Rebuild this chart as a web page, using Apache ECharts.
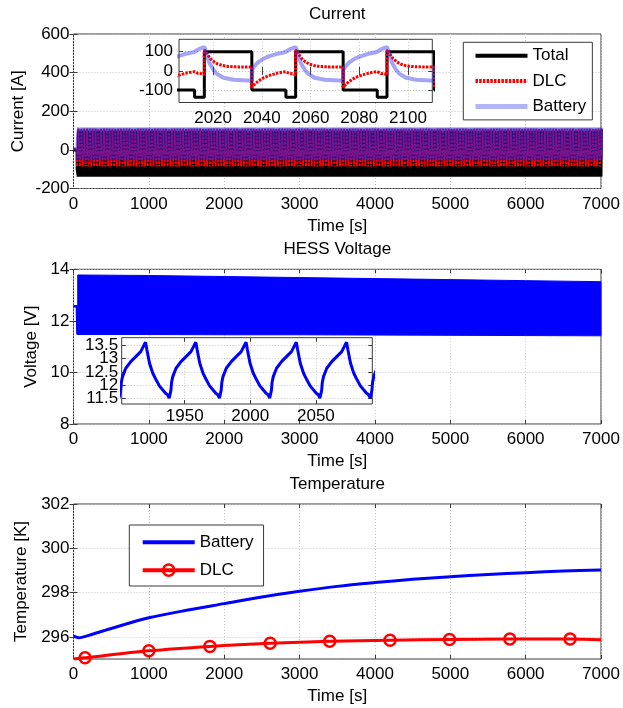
<!DOCTYPE html>
<html>
<head>
<meta charset="utf-8">
<title>HESS simulation</title>
<script src="https://cdn.jsdelivr.net/npm/echarts@6.0.0/dist/echarts.min.js"></script>
<style>
  html, body { margin: 0; padding: 0; background: #ffffff; }
  #chart { width: 623px; height: 708px; }
</style>
</head>
<body>
<div id="chart"></div>
<script>
// ---------- Current: one period of the repeating load cycle ----------
// [seconds after the step down, current in A]
const cyclePeriod = 37.5;
const firstCycleStart = 48.4;
const simulationEnd = 7000;

const totalCycle = [[0,-100],[14,-100],[14,-138],[18,-138],[18,100],[37.5,100]];
const dlcCycle = [[0,-86],[1,-72],[2,-60],[3.5,-46],[5,-35],[7,-25],[9,-17],[11,-10],[13,-6],[14,-4],
  [14.6,-9],[15.4,-13],[16.2,-7],[17,-15],[18,-22],[18,110],[18.7,99],[19.5,82],[20.5,64],[22,47],
  [23.5,36],[25.5,28],[28,23],[32,21],[37.5,20]];
const batteryCycle = [[0,-52],[0,2],[1,24],[2.5,44],[4.5,62],[7,76],[10,88],[13,96],[14,100],[15,108],
  [16,115],[17,120],[18,124],[18.4,112],[19,84],[20,44],[21.7,6],[23,-14],[25.8,-36],[30,-46],[37.5,-52]];

// idle stretch before cycling begins
const totalIdle = [[0,0],[48.4,0]];
const dlcIdle = [[0,6],[48.4,6]];
const batteryIdle = [[0,4],[48.4,4]];

// ---------- HESS voltage ----------
const voltageIdle = [[0,12.57],[45,12.57],[52,11.47]];
const voltageUpper = [[56,13.78],[1000,13.76],[2000,13.72],[3000,13.68],[4000,13.64],[5000,13.6],[6000,13.56],[7000,13.52]];
const voltageLower = [[56,11.47],[1000,11.47],[2000,11.46],[3000,11.46],[4000,11.45],[5000,11.44],[6000,11.43],[7000,11.42]];
// one period of the terminal voltage, [seconds after the peak, V]
const voltagePeriod = 38.3;
const voltagePeakTime = 1920.2;
const voltageCycle = [[0,13.63],[1,13.34],[3,12.83],[5.5,12.45],[8,12.2],[10.5,11.97],[13,11.82],[15.2,11.69],
  [16.8,11.63],[18,11.5],[18.8,11.44],[19.3,11.8],[19.8,12.1],[20.7,12.32],[23.2,12.64],[27,12.89],
  [30.8,13.08],[34.6,13.27],[37.2,13.53],[38.3,13.63]];

// ---------- Temperatures ----------
const batteryTemp = [[0,296.03],[70,295.96],[250,296.12],[500,296.38],[1000,296.86],[1500,297.2],[2000,297.5],
  [2500,297.8],[3000,298.06],[3500,298.28],[4000,298.45],[4500,298.6],[5000,298.72],[5500,298.82],
  [6000,298.9],[6500,298.97],[7000,299.02]];
const dlcTemp = [[0,295.0],[153,295.06],[1000,295.37],[1810,295.57],[2610,295.71],[3400,295.8],
  [4200,295.85],[4990,295.88],[5790,295.9],[6590,295.9],[7000,295.87]];

// ---------- Tick values ----------
const currentInsetTicks = [-100, 0, 100];
const currentInsetTimeTicks = [2020, 2040, 2060, 2080, 2100];
const voltageInsetTicks = [11.5, 12, 12.5, 13, 13.5];
const voltageInsetLabelsA = [11.5, 12.5, 13.5];
const voltageInsetLabelsB = [12, 13];
const voltageInsetTimeTicks = [1950, 2000, 2050];
const temperatureTicks = [296, 298, 300, 302];

// ---------- helpers ----------
function repeatCycle(lead, cycle, start, period, end) {
  const out = lead.slice();
  for (let t0 = start; t0 < end; t0 += period) {
    for (const [p, v] of cycle) out.push([Math.round((t0 + p) * 100) / 100, v]);
  }
  return out;
}
function windowOf(data, from, to) {
  return data.filter(d => d[0] >= from && d[0] <= to);
}

const totalCurrent = repeatCycle(totalIdle, totalCycle, firstCycleStart, cyclePeriod, simulationEnd);
const dlcCurrent = repeatCycle(dlcIdle, dlcCycle, firstCycleStart, cyclePeriod, simulationEnd);
const batteryCurrent = repeatCycle(batteryIdle, batteryCycle, firstCycleStart, cyclePeriod, simulationEnd);
const voltageDetail = repeatCycle([], voltageCycle, voltagePeakTime - voltagePeriod, voltagePeriod, 2100);
const voltageBand = voltageUpper.concat(voltageLower.slice().reverse());

const FONT = '"Liberation Sans", Arial, sans-serif';
const FS = 17;
const frameColor = '#3a3a3a';
const gridLineStyle = { show: true, lineStyle: { color: '#c4c4c4', type: [1, 2], width: 1 } };
const tick = { show: true, inside: true, length: 4, lineStyle: { color: frameColor, width: 1 } };

function labelStyle(margin, values) {
  const s = { color: '#000', fontSize: FS, fontFamily: FONT, margin,
    showMinLabel: true, showMaxLabel: true, hideOverlap: false, formatter: v => String(v) };
  if (values) s.customValues = values;
  return s;
}

function axisPair(kind, gridIndex, min, max, spec, labelMargin, z) {
  const custom = spec.values ? { customValues: spec.values } : {};
  const main = {
    type: 'value', gridIndex, min, max, z,
    position: kind === 'x' ? 'bottom' : 'left',
    axisLine: { show: false },
    axisTick: Object.assign({}, tick, custom),
    axisLabel: labelStyle(labelMargin, spec.labels || spec.values),
    splitLine: gridLineStyle
  };
  if (spec.interval) main.interval = spec.interval;
  const mirror = {
    type: 'value', gridIndex, min, max, z,
    position: kind === 'x' ? 'top' : 'right',
    axisLine: { show: false },
    axisTick: Object.assign({}, tick, custom),
    axisLabel: { show: false },
    splitLine: { show: false }
  };
  if (spec.interval) mirror.interval = spec.interval;
  return [main, mirror];
}

const grids = [
  { left: 73.5, top: 34, width: 527.5, height: 154.5 },          // current
  { left: 179, top: 39.3, width: 253.3, height: 63.2, z: 3 },     // current detail
  { left: 73.5, top: 269.3, width: 527.5, height: 154.7 },        // voltage
  { left: 121.7, top: 337.7, width: 250.6, height: 66.3, z: 3 },  // voltage detail
  { left: 73.5, top: 504, width: 527.5, height: 155 }             // temperature
].map(g => Object.assign({ show: true, borderColor: frameColor, borderWidth: 1,
  backgroundColor: '#ffffff', containLabel: false, outerBoundsMode: 'none' }, g));

const xAxes = [].concat(
  axisPair('x', 0, 0, 7000, { interval: 1000 }, 7, 0),
  axisPair('x', 1, 2006, 2110, { values: currentInsetTimeTicks }, 7, 4),
  axisPair('x', 2, 0, 7000, { interval: 1000 }, 7, 0),
  axisPair('x', 3, 1902, 2093, { values: voltageInsetTimeTicks }, 4, 4),
  axisPair('x', 4, 0, 7000, { interval: 1000 }, 7, 0)
);
const yAxes = [].concat(
  axisPair('y', 0, -200, 600, { interval: 200 }, 4, 0),
  axisPair('y', 1, -165, 165, { values: currentInsetTicks }, 6, 4),
  axisPair('y', 2, 8, 14, { interval: 2 }, 4, 0),
  axisPair('y', 3, 11.28, 13.8, { values: voltageInsetTicks, labels: voltageInsetLabelsA }, 3.5, 4),
  axisPair('y', 4, 295, 302, { values: temperatureTicks }, 4, 0),
  [{ // second row of labels for the voltage detail, which overlap the first
    type: 'value', gridIndex: 3, min: 11.28, max: 13.8, z: 4, position: 'left', offset: 0,
    axisLine: { show: false }, axisTick: { show: false }, splitLine: { show: false },
    axisLabel: labelStyle(3.5, voltageInsetLabelsB)
  }]
);

const totalStyle = { color: '#000000', width: 3 };
const dlcStyle = { color: '#ff0000', width: 3, type: [2.5, 1.2] };
const dlcStyleDense = { color: '#ff0000', width: 2, type: [2.5, 1.2] };
const batteryStyle = { color: 'rgba(40,40,235,0.42)', width: 4 };
const batteryStyleDense = { color: 'rgba(40,30,225,0.6)', width: 3 };

function lineSeries(name, data, grid, lineStyle, z) {
  return { name, type: 'line', data, xAxisIndex: 2 * grid, yAxisIndex: 2 * grid,
    showSymbol: false, symbol: 'none', lineStyle, itemStyle: { color: lineStyle.color },
    z, silent: true, animation: false, clip: true };
}

const series = [
  lineSeries('Total', totalCurrent, 0, totalStyle, 2),
  lineSeries('DLC', dlcCurrent, 0, dlcStyleDense, 2),
  lineSeries('Battery', batteryCurrent, 0, batteryStyleDense, 2),
  lineSeries('Total', windowOf(totalCurrent, 1990, 2125), 1, totalStyle, 5),
  lineSeries('DLC', windowOf(dlcCurrent, 1990, 2125), 1, dlcStyle, 5),
  lineSeries('Battery', windowOf(batteryCurrent, 1990, 2125), 1, batteryStyle, 5),
  lineSeries('HESS voltage', voltageIdle, 2, { color: '#0000ff', width: 2.5 }, 2),
  {
    name: 'HESS voltage band', type: 'custom', xAxisIndex: 4, yAxisIndex: 4,
    data: voltageBand, z: 2, silent: true, animation: false, clip: true,
    renderItem: function (params, api) {
      if (params.dataIndex !== 0) return null;
      const pts = voltageBand.map(p => api.coord(p));
      return { type: 'polygon', shape: { points: pts },
        style: { fill: '#0000ff', stroke: '#0000ff', lineWidth: 1 } };
    }
  },
  lineSeries('HESS voltage detail', voltageDetail, 3, { color: '#0000ff', width: 3 }, 5),
  Object.assign(lineSeries('Battery temperature', batteryTemp, 4, { color: '#0000ff', width: 3 }, 2),
    { smooth: 0.3 }),
  Object.assign(lineSeries('DLC temperature', dlcTemp, 4, { color: '#ff0000', width: 3 }, 3), {
    showSymbol: true, symbol: 'circle', symbolSize: 11, smooth: 0.3,
    itemStyle: { color: 'rgba(255,255,255,0)', borderColor: '#ff0000', borderWidth: 2.5 },
    data: dlcTemp.map((d, i) => (i === 0 || i === dlcTemp.length - 1)
      ? { value: d, symbol: 'none' } : d)
  })
];

const legendText = { fontSize: FS, fontFamily: FONT, color: '#000' };
const hiddenMark = { opacity: 0 };
const legends = [
  { data: [
      { name: 'Total', lineStyle: { width: 4 } },
      { name: 'DLC', lineStyle: { width: 4 } },
      { name: 'Battery', lineStyle: { width: 5, color: 'rgba(40,40,235,0.35)' } }
    ],
    orient: 'vertical', left: 463.3, top: 42.3,
    padding: [5, 6, 5, 9.7], itemGap: 8.3, itemWidth: 52, itemHeight: 14,
    itemStyle: hiddenMark,
    backgroundColor: '#ffffff', borderColor: frameColor, borderWidth: 1, borderRadius: 0,
    textStyle: legendText, selectedMode: false, z: 10 },
  { data: [
      { name: 'Battery temperature', itemStyle: hiddenMark, lineStyle: { width: 4 } },
      { name: 'DLC temperature', lineStyle: { width: 4 },
        itemStyle: { color: 'rgba(255,255,255,0)', borderColor: '#ff0000', borderWidth: 2.5 } }
    ],
    orient: 'vertical', left: 129.3, top: 525,
    padding: [8.7, 10, 7.3, 11.4], itemGap: 11, itemWidth: 52, itemHeight: 14,
    backgroundColor: '#ffffff', borderColor: frameColor, borderWidth: 1, borderRadius: 0,
    textStyle: legendText, selectedMode: false, z: 10,
    formatter: n => n.replace(' temperature', '') }
];

function label(text, x, y, rotate) {
  return { type: 'text', x, y, rotation: rotate ? Math.PI / 2 : 0, z: 20, silent: true,
    style: { text, fill: '#000', font: FS + 'px ' + FONT, align: 'center', verticalAlign: 'middle' } };
}
const cx = 73.5 + 527.5 / 2;
const graphics = [
  label('Current', cx, 14), label('Time [s]', cx, 226), label('Current [A]', 18, 111.25, true),
  label('HESS Voltage', cx, 249), label('Time [s]', cx, 461.5), label('Voltage [V]', 31.7, 346.7, true),
  label('Temperature', cx, 484), label('Time [s]', cx, 696.5), label('Temperature [K]', 21.8, 581.5, true)
];

const chart = echarts.init(document.getElementById('chart'), null, { renderer: 'canvas' });
chart.setOption({
  animation: false,
  backgroundColor: '#ffffff',
  grid: grids,
  xAxis: xAxes,
  yAxis: yAxes,
  legend: legends,
  graphic: graphics,
  series
});
</script>
</body>
</html>
